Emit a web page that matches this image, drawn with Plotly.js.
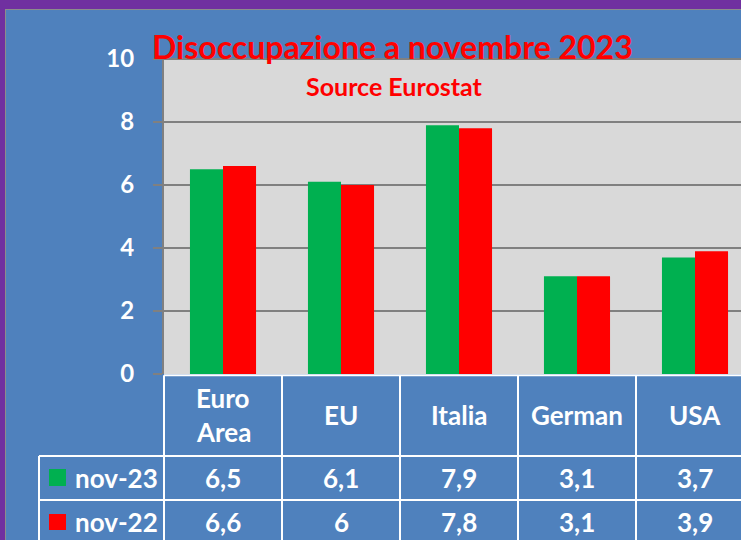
<!DOCTYPE html>
<html>
<head>
<meta charset="utf-8">
<script src="https://cdn.plot.ly/plotly-3.0.1.min.js"></script>
<style>
html, body { margin:0; padding:0; width:741px; height:540px; overflow:hidden; background:#7030a0; }
#wrap { position:absolute; left:5px; top:9px; border-top:1px solid #8c8c8c; border-left:1px solid #8c8c8c; }
#chart { width:754px; height:530px; }
</style>
</head>
<body>
<div id="wrap"><div id="chart"></div></div>
<script>
const categories = ['Euro Area', 'EU', 'Italia', 'German', 'USA'];
const seriesNames = ['nov-23', 'nov-22'];
const nov23 = [6.5, 6.1, 7.9, 3.1, 3.7];
const nov22 = [6.6, 6.0, 7.8, 3.1, 3.9];
const yTicks = [0, 2, 4, 6, 8, 10];
const titleText = 'Disoccupazione a novembre 2023';
const subtitleText = 'Source Eurostat';

const GREEN = '#00b050', RED = '#ff0000', WHITE = '#ffffff', FONT = 'Lato, "Open Sans", sans-serif';
const idx = categories.map((c, i) => i);
const fmt = v => String(v).replace('.', ',');

const traces = [
  { type:'bar', x: idx, y: nov23, name: seriesNames[0], marker:{color:GREEN}, hoverinfo:'skip' },
  { type:'bar', x: idx, y: nov22, name: seriesNames[1], marker:{color:RED}, hoverinfo:'skip' }
];

// table geometry in paper coords (relative to plot area)
const rowTop1 = -0.2603, rowTop2 = -0.40, tableBottom = -0.75, tableLeft = -0.2119;
const yHeader = -0.130, yRow1 = -0.331, yRow2 = -0.469;

const shapes = [];
const lineW = { color: WHITE, width: 2 };
shapes.push({ type:'line', xref:'paper', yref:'paper', x0:0, x1:1.05, y0:-0.004, y1:-0.004, line: lineW });
for (let i = 0; i <= categories.length; i++) {
  shapes.push({ type:'line', xref:'paper', yref:'paper', x0: i/categories.length, x1: i/categories.length, y0:-0.004, y1: tableBottom, line: lineW });
}
[rowTop1, rowTop2].forEach(y => shapes.push({ type:'line', xref:'paper', yref:'paper', x0: tableLeft, x1: 1.05, y0: y, y1: y, line: lineW }));
shapes.push({ type:'line', xref:'paper', yref:'paper', x0: tableLeft, x1: tableLeft, y0: rowTop1, y1: tableBottom, line: lineW });
shapes.push({ type:'rect', xref:'paper', yref:'paper', x0:-0.1949, x1:-0.1661, y0:-0.3556, y1:-0.3016, fillcolor: GREEN, line:{width:0} });
shapes.push({ type:'rect', xref:'paper', yref:'paper', x0:-0.1949, x1:-0.1661, y0:-0.4952, y1:-0.4444, fillcolor: RED, line:{width:0} });
shapes.push({ type:'line', xref:'paper', yref:'paper', x0:0, x1:1.05, y0:1, y1:1, line:{color:'#808080', width:2} });

const cellFont = { family: FONT, size: 26, color: WHITE, weight: 700 };
const annotations = [];
categories.forEach((c, i) => {
  const words = c.split(' ');
  const step = 0.108;
  words.forEach((w, k) => {
    annotations.push({ xref:'x', yref:'paper', x: i, y: yHeader + ((words.length-1)/2 - k) * step, text: w, showarrow:false, font: cellFont, xanchor:'center', yanchor:'middle' });
  });
  annotations.push({ xref:'x', yref:'paper', x: i, y: yRow1, text: fmt(nov23[i]), showarrow:false, font: cellFont, yanchor:'middle' });
  annotations.push({ xref:'x', yref:'paper', x: i, y: yRow2, text: fmt(nov22[i]), showarrow:false, font: cellFont, yanchor:'middle' });
});
annotations.push({ xref:'paper', yref:'paper', x:-0.1542, y: yRow1, text: seriesNames[0], showarrow:false, font: cellFont, xanchor:'left', yanchor:'middle' });
annotations.push({ xref:'paper', yref:'paper', x:-0.1542, y: yRow2, text: seriesNames[1], showarrow:false, font: cellFont, xanchor:'left', yanchor:'middle' });
annotations.push({ xref:'paper', yref:'paper', x:0.388, y:1.041, text: titleText, showarrow:false, font:{ family: FONT, size: 32, color: RED, weight: 700 }, xanchor:'center', yanchor:'middle' });
annotations.push({ xref:'paper', yref:'paper', x:0.390, y:0.914, text: subtitleText, showarrow:false, font:{ family: FONT, size: 25, color: RED, weight: 700 }, xanchor:'center', yanchor:'middle' });

const layout = {
  width: 754, height: 530,
  margin: { l:158, r:6, t:49, b:166, pad:0 },
  paper_bgcolor: '#4f81bd',
  plot_bgcolor: '#d9d9d9',
  showlegend: false,
  barmode: 'group',
  bargap: 0.44,
  bargroupgap: 0,
  xaxis: { range:[-0.5, 4.5], showticklabels:false, showgrid:false, zeroline:false, showline:false, ticks:'', fixedrange:true },
  yaxis: { range:[0, 10], tickvals: yTicks, ticktext: yTicks.map(String), ticks:'outside', ticklen:9, tickwidth:2, tickcolor:'#808080',
           showgrid:true, gridcolor:'#808080', gridwidth:2, zeroline:false, showline:true, linecolor:'#808080', linewidth:2,
           tickfont:{ family: FONT, size: 24, color: WHITE, weight: 700 }, ticklabelstandoff: 14, fixedrange:true },
  shapes, annotations,
  font: { family: FONT }
};

Plotly.newPlot('chart', traces, layout, { displayModeBar:false, staticPlot:true });
</script>
</body>
</html>
